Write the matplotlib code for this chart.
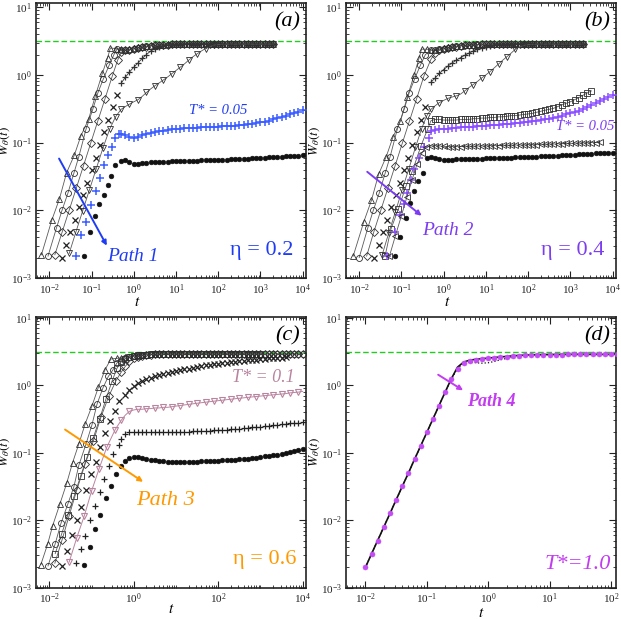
import matplotlib
matplotlib.use("Agg")
import matplotlib.pyplot as plt
from matplotlib.ticker import LogLocator, NullFormatter, LogFormatterSciNotation

plt.rcParams['font.family'] = ['Liberation Serif', 'DejaVu Serif']
plt.rcParams['mathtext.fontset'] = 'stix'

# common late-time grid (0.1 decade spacing)
t_late = [0.5, 0.63, 0.79, 1.0, 1.26, 1.58, 2.0, 2.51, 3.16, 3.98,
          5.01, 6.31, 7.94, 10.0, 12.6, 15.8, 20.0, 25.1, 31.6, 39.8,
          50.1, 63.1, 79.4, 100.0, 126.0, 158.0, 200.0, 251.0, 316.0, 398.0,
          501.0, 631.0, 794.0, 1000.0, 1260.0, 1580.0, 2000.0, 2510.0, 3160.0, 3980.0,
          5010.0, 6310.0, 7940.0, 10000.0]
w_sat = 3.14  # green dashed limit

# ---------------- panel (a), eta = 0.2 ----------------
ta1 = [0.0065, 0.0115, 0.0174, 0.0257, 0.039, 0.056, 0.085, 0.123, 0.18, 0.24, 0.28, 0.37]
wa1 = [0.0022, 0.0072, 0.0148, 0.036, 0.065, 0.126, 0.22, 0.49, 1.05, 1.8, 2.5, 2.45]
wa1_l = [2.4, 2.35, 2.4, 2.5, 2.55, 2.6, 2.65, 2.7, 2.75, 2.78, 2.8, 2.82, 2.84, 2.85, 2.85, 2.86, 2.85,
         2.87, 2.86, 2.85, 2.87, 2.86, 2.85, 2.86, 2.87, 2.85, 2.86, 2.85, 2.87, 2.86, 2.85, 2.86, 2.87,
         2.85, 2.86, 2.85, 2.86]
ta2 = [0.0093, 0.0148, 0.020, 0.0275, 0.038, 0.050, 0.074, 0.107, 0.141, 0.19, 0.26, 0.34, 0.40]
wa2 = [0.0021, 0.0055, 0.010, 0.0178, 0.035, 0.062, 0.158, 0.31, 0.54, 0.87, 1.38, 2.0, 2.4]
wa2_l = [2.35, 2.3, 2.35, 2.45, 2.5, 2.6, 2.65, 2.7, 2.72, 2.76, 2.8, 2.8, 2.83, 2.84, 2.85, 2.84, 2.86,
         2.85, 2.86, 2.84, 2.86, 2.85, 2.87, 2.85, 2.84, 2.86, 2.85, 2.86, 2.85, 2.84, 2.86, 2.85, 2.86,
         2.87, 2.85, 2.84, 2.85]
ta3 = [0.0135, 0.020, 0.0295, 0.0437, 0.0646, 0.0955, 0.141, 0.209, 0.309, 0.417]
wa3 = [0.0022, 0.0047, 0.010, 0.0214, 0.0457, 0.098, 0.209, 0.447, 0.955, 1.66]
wa3_l = [2.15, 2.3, 2.35, 2.4, 2.5, 2.55, 2.62, 2.68, 2.72, 2.76, 2.79, 2.81, 2.83, 2.84, 2.85, 2.86, 2.85,
         2.84, 2.86, 2.85, 2.86, 2.87, 2.85, 2.86, 2.85, 2.84, 2.86, 2.85, 2.86, 2.85, 2.86, 2.84, 2.85,
         2.86, 2.85, 2.86, 2.85]
ta4 = [0.02, 0.025, 0.0316, 0.0398, 0.050, 0.063, 0.079, 0.10, 0.126, 0.158, 0.20, 0.25, 0.316, 0.40]
wa4 = [0.002, 0.0031, 0.0047, 0.0072, 0.011, 0.0168, 0.0257, 0.039, 0.060, 0.092, 0.141, 0.216, 0.33, 0.51]
wa4_l = [0.75, 0.92, 1.1, 1.3, 1.5, 1.75, 2.0, 2.25, 2.45, 2.6, 2.7, 2.75, 2.8, 2.82, 2.84, 2.85, 2.84,
         2.86, 2.85, 2.86, 2.85, 2.84, 2.86, 2.85, 2.86, 2.85, 2.86, 2.84, 2.85, 2.86, 2.85, 2.86, 2.85,
         2.84, 2.86, 2.85, 2.86]
ta5 = [0.0295, 0.0427, 0.0617, 0.089, 0.129, 0.186, 0.269, 0.37]
wa5 = [0.0023, 0.0048, 0.0098, 0.020, 0.041, 0.083, 0.158, 0.24]
wa5_l = [0.31, 0.34, 0.37, 0.40, 0.43, 0.48, 0.55, 0.62, 0.69, 0.76, 0.84, 0.93, 1.04, 1.16, 1.3, 1.45,
         1.65, 1.85, 2.05, 2.25, 2.45, 2.62, 2.75, 2.8, 2.84, 2.85, 2.86, 2.85, 2.86, 2.85, 2.86, 2.85,
         2.84, 2.86, 2.85, 2.86, 2.85]
ta6 = [0.042, 0.056, 0.074, 0.098, 0.129, 0.162, 0.20, 0.25, 0.31, 0.36, 0.44]
wa6 = [0.0021, 0.0043, 0.0068, 0.012, 0.019, 0.030, 0.047, 0.066, 0.087, 0.118, 0.135]
wa6_l = [0.133, 0.128, 0.122, 0.118, 0.122, 0.128, 0.133, 0.138, 0.142, 0.146,
         0.150, 0.153, 0.156, 0.158, 0.160, 0.162, 0.164, 0.165, 0.166, 0.167,
         0.168, 0.169, 0.170, 0.172, 0.173, 0.174, 0.175, 0.177, 0.179, 0.182,
         0.185, 0.189, 0.193, 0.198, 0.204, 0.211, 0.22, 0.23, 0.24, 0.25,
         0.26, 0.27, 0.28, 0.30]
ta7 = [0.068, 0.093, 0.123, 0.151, 0.195, 0.24, 0.288, 0.363]
wa7 = [0.0021, 0.0047, 0.0083, 0.0123, 0.017, 0.024, 0.032, 0.046]
wa7_l = [0.054, 0.055, 0.051, 0.049, 0.049, 0.050, 0.050, 0.051, 0.051, 0.052,
         0.052, 0.052, 0.053, 0.053, 0.053, 0.054, 0.054, 0.054, 0.054, 0.055,
         0.055, 0.055, 0.055, 0.056, 0.056, 0.056, 0.057, 0.057, 0.057, 0.058,
         0.058, 0.059, 0.059, 0.060, 0.060, 0.061, 0.061, 0.062, 0.062, 0.063,
         0.063, 0.064, 0.064, 0.065]

# ---------------- panel (b), eta = 0.4 ----------------
tb1 = [0.0072, 0.0129, 0.0195, 0.0288, 0.0437, 0.063, 0.095, 0.138, 0.2, 0.26, 0.30, 0.40]
wb1 = [0.0021, 0.0068, 0.014, 0.034, 0.062, 0.12, 0.21, 0.47, 1.0, 1.75, 2.4, 2.4]
wb1_l = [2.35, 2.3, 2.4, 2.5, 2.55, 2.6, 2.65, 2.7, 2.74, 2.78, 2.8, 2.82, 2.84, 2.85, 2.86, 2.85, 2.87,
         2.86, 2.85, 2.86, 2.87, 2.85, 2.86, 2.85, 2.87, 2.86, 2.85, 2.86, 2.87, 2.85, 2.86, 2.85, 2.86,
         2.87, 2.85, 2.86, 2.85]
tb2 = [0.010, 0.016, 0.0216, 0.0297, 0.041, 0.054, 0.08, 0.116, 0.152, 0.205, 0.28, 0.37]
wb2 = [0.0020, 0.0055, 0.010, 0.0178, 0.035, 0.062, 0.158, 0.31, 0.54, 0.87, 1.38, 2.0]
wb2_l = [2.3, 2.35, 2.4, 2.45, 2.5, 2.58, 2.64, 2.7, 2.74, 2.77, 2.8, 2.82, 2.83, 2.85, 2.84, 2.86, 2.85,
         2.86, 2.84, 2.86, 2.85, 2.87, 2.85, 2.86, 2.84, 2.86, 2.85, 2.86, 2.85, 2.87, 2.85, 2.86, 2.84,
         2.86, 2.85, 2.86, 2.85]
tb3 = [0.015, 0.022, 0.0325, 0.048, 0.071, 0.105, 0.155, 0.23, 0.34]
wb3 = [0.0021, 0.0047, 0.010, 0.0214, 0.0457, 0.098, 0.209, 0.447, 0.955]
wb3_l = [1.7, 2.1, 2.3, 2.4, 2.48, 2.55, 2.62, 2.68, 2.72, 2.76, 2.79, 2.81, 2.83, 2.84, 2.85, 2.86, 2.85,
         2.84, 2.86, 2.85, 2.86, 2.87, 2.85, 2.86, 2.85, 2.84, 2.86, 2.85, 2.86, 2.85, 2.86, 2.84, 2.85,
         2.86, 2.85, 2.86, 2.85]
tb4 = [0.023, 0.029, 0.0363, 0.0457, 0.0575, 0.0724, 0.091, 0.115, 0.145, 0.182, 0.229, 0.288, 0.363]
wb4 = [0.002, 0.0031, 0.0047, 0.0072, 0.011, 0.0168, 0.0257, 0.039, 0.060, 0.092, 0.141, 0.216, 0.33]
wb4_l = [0.78, 0.9, 1.05, 1.2, 1.35, 1.5, 1.65, 1.8, 1.95, 2.1, 2.25, 2.38, 2.5, 2.6, 2.68, 2.74, 2.78,
         2.81, 2.83, 2.84, 2.85, 2.86, 2.85, 2.86, 2.84, 2.86, 2.85, 2.86, 2.85, 2.86, 2.84, 2.85, 2.86,
         2.85, 2.86, 2.85, 2.86]
tb5 = [0.035, 0.05, 0.072, 0.104, 0.15, 0.215, 0.30, 0.40]
wb5 = [0.0022, 0.0046, 0.0095, 0.02, 0.041, 0.085, 0.16, 0.25]
wb5_l = [0.31, 0.35, 0.39, 0.42, 0.45, 0.47, 0.49, 0.52, 0.58, 0.65, 0.72, 0.8, 0.9, 1.0, 1.12, 1.27,
         1.45, 1.65, 1.86, 2.1, 2.4, 2.6, 2.72, 2.8, 2.83, 2.85, 2.86, 2.85, 2.86, 2.85, 2.84, 2.86,
         2.85, 2.86, 2.85, 2.86, 2.85]
tb6 = [0.041, 0.056, 0.085, 0.129, 0.182, 0.29, 0.42]
wb6 = [0.0021, 0.0052, 0.0105, 0.023, 0.038, 0.089, 0.16]
wb6_l = [0.21, 0.22, 0.22, 0.215, 0.215, 0.215, 0.215, 0.22, 0.22, 0.22, 0.225, 0.225, 0.23, 0.23,
         0.235, 0.235, 0.24, 0.24, 0.245, 0.25, 0.25, 0.255, 0.26, 0.265, 0.27, 0.28, 0.29, 0.30, 0.31,
         0.32, 0.34, 0.36, 0.38, 0.40, 0.43, 0.46, 0.50, 0.54, 0.58]
tb7 = [0.046, 0.071, 0.091, 0.113, 0.135, 0.165, 0.20, 0.26, 0.35, 0.44]
wb7 = [0.0021, 0.0048, 0.0085, 0.0125, 0.018, 0.028, 0.041, 0.06, 0.085, 0.118]
wb7_l = [0.15, 0.155, 0.157, 0.16, 0.161, 0.163, 0.165, 0.167, 0.168, 0.17,
         0.172, 0.174, 0.176, 0.178, 0.18, 0.182, 0.184, 0.186, 0.188, 0.19,
         0.193, 0.196, 0.2, 0.203, 0.206, 0.21, 0.215, 0.22, 0.225, 0.23,
         0.24, 0.25, 0.26, 0.27, 0.28, 0.29, 0.31, 0.33, 0.355, 0.38,
         0.41, 0.44, 0.47, 0.51]
tb8 = [0.052, 0.072, 0.10, 0.135, 0.178, 0.234, 0.30, 0.38]
wb8 = [0.0021, 0.0042, 0.0083, 0.0158, 0.028, 0.048, 0.069, 0.085]
wb8_l = [0.089, 0.09, 0.089, 0.088, 0.087, 0.087, 0.087, 0.087, 0.088, 0.088,
         0.088, 0.089, 0.089, 0.089, 0.09, 0.09, 0.09, 0.091, 0.091, 0.091,
         0.092, 0.092, 0.092, 0.093, 0.093, 0.093, 0.094, 0.094, 0.095, 0.095,
         0.096, 0.096, 0.097, 0.097, 0.098, 0.098, 0.099, 0.099, 0.1, 0.1, 0.101]
tb9 = [0.07, 0.095, 0.126, 0.158, 0.2, 0.25, 0.316, 0.40]
wb9 = [0.0021, 0.004, 0.0076, 0.0126, 0.019, 0.027, 0.035, 0.06]
wb9_l = [0.062, 0.06, 0.057, 0.056, 0.056, 0.056, 0.057, 0.057, 0.057, 0.058,
         0.058, 0.058, 0.058, 0.059, 0.059, 0.059, 0.06, 0.06, 0.06, 0.06,
         0.061, 0.061, 0.061, 0.062, 0.062, 0.062, 0.063, 0.063, 0.063, 0.064,
         0.064, 0.065, 0.065, 0.066, 0.066, 0.067, 0.067, 0.068, 0.068, 0.069,
         0.069, 0.07, 0.07, 0.071]

# ---------------- panel (c), eta = 0.6 ----------------
tc1 = [0.0063, 0.0091, 0.012, 0.0178, 0.0257, 0.0355, 0.050, 0.071, 0.102, 0.145, 0.209, 0.288, 0.40]
wc1 = [0.0022, 0.0044, 0.0083, 0.0174, 0.035, 0.071, 0.135, 0.27, 0.49, 0.93, 1.7, 2.45, 2.5]
wc1_l = [2.55, 2.6, 2.65, 2.7, 2.75, 2.8, 2.83, 2.86, 2.88, 2.9, 2.9, 2.91, 2.9, 2.92, 2.91, 2.9, 2.92,
         2.91, 2.9, 2.91, 2.92, 2.9, 2.91, 2.9, 2.92, 2.91, 2.9, 2.91, 2.92, 2.9, 2.91, 2.9, 2.92, 2.91]
tc2 = [0.0093, 0.0138, 0.019, 0.0275, 0.038, 0.050, 0.074, 0.102, 0.135, 0.186, 0.25, 0.316, 0.40]
wc2 = [0.0021, 0.0045, 0.0091, 0.0174, 0.031, 0.065, 0.135, 0.257, 0.525, 0.91, 1.35, 1.66, 2.14]
wc2_l = [2.3, 2.5, 2.62, 2.7, 2.76, 2.8, 2.84, 2.87, 2.89, 2.9, 2.91, 2.9, 2.92, 2.91, 2.9, 2.91, 2.92,
         2.9, 2.91, 2.9, 2.92, 2.91, 2.9, 2.91, 2.92, 2.9, 2.91, 2.9, 2.92, 2.91, 2.9, 2.91, 2.92, 2.9,
         2.91, 2.9, 2.92, 2.91, 2.9, 2.91, 2.92, 2.9, 2.91, 2.9]
tc3 = [0.0138, 0.0195, 0.0275, 0.039, 0.055, 0.078, 0.11, 0.155, 0.219, 0.309, 0.40]
wc3 = [0.0032, 0.0062, 0.012, 0.023, 0.045, 0.085, 0.166, 0.316, 0.62, 1.17, 1.78]
wc3_l = [2.2, 2.45, 2.6, 2.7, 2.76, 2.8, 2.84, 2.87, 2.89, 2.9, 2.91, 2.9, 2.92, 2.91, 2.9, 2.91, 2.92,
         2.9, 2.91, 2.9, 2.92, 2.91, 2.9, 2.91, 2.92, 2.9, 2.91, 2.9, 2.92, 2.91, 2.9, 2.91, 2.92, 2.9]
tc4 = [0.0135, 0.020, 0.0295, 0.0447, 0.071, 0.11, 0.168, 0.257, 0.38]
wc4 = [0.0023, 0.0051, 0.0117, 0.028, 0.069, 0.148, 0.34, 0.69, 1.17]
wc4_l = [1.55, 1.9, 2.25, 2.5, 2.65, 2.75, 2.8, 2.84, 2.87, 2.89, 2.9, 2.91, 2.9, 2.92, 2.91, 2.9, 2.91,
         2.92, 2.9, 2.91, 2.9, 2.92, 2.91, 2.9, 2.91, 2.92, 2.9, 2.91, 2.9, 2.92, 2.91, 2.9, 2.91, 2.92,
         2.9, 2.91, 2.9, 2.92, 2.91, 2.9, 2.91, 2.92, 2.9, 2.91]
tc5 = [0.020, 0.0263, 0.0347, 0.0447, 0.0575, 0.0759, 0.0977, 0.126, 0.162, 0.214, 0.275, 0.355, 0.457]
wc5 = [0.0021, 0.0035, 0.006, 0.010, 0.0158, 0.028, 0.048, 0.074, 0.12, 0.195, 0.295, 0.417, 0.575]
wc5_l = [0.72, 0.86, 0.97, 1.07, 1.15, 1.22, 1.29, 1.35, 1.41, 1.46, 1.51, 1.56, 1.61, 1.66, 1.71,
         1.76, 1.81, 1.86, 1.91, 1.96, 2.0, 2.04, 2.08, 2.12, 2.16, 2.2, 2.23, 2.27, 2.3, 2.34, 2.37,
         2.4, 2.43, 2.46, 2.49, 2.52, 2.54, 2.57, 2.6]
tc6 = [0.0295, 0.0447, 0.0676, 0.10, 0.151, 0.229, 0.363]
wc6 = [0.0024, 0.0055, 0.0117, 0.027, 0.058, 0.12, 0.22]
wc6_l = [0.30, 0.36, 0.41, 0.43, 0.44, 0.44, 0.45, 0.45, 0.46, 0.46, 0.47, 0.47, 0.48, 0.49, 0.50,
         0.51, 0.52, 0.53, 0.54, 0.55, 0.56, 0.57, 0.58, 0.59, 0.60, 0.61, 0.62, 0.63, 0.64, 0.65,
         0.66, 0.67, 0.68, 0.69, 0.70, 0.71, 0.72, 0.73, 0.74, 0.75, 0.77, 0.78, 0.79, 0.81]
tc7 = [0.043, 0.056, 0.071, 0.093, 0.12, 0.155, 0.20, 0.257, 0.331, 0.437]
wc7 = [0.0023, 0.0038, 0.0059, 0.010, 0.016, 0.026, 0.041, 0.063, 0.096, 0.13]
wc7_l = [0.16, 0.19, 0.2, 0.2, 0.2, 0.2, 0.2, 0.2, 0.2, 0.2, 0.2, 0.201, 0.202, 0.203, 0.204, 0.205,
         0.206, 0.207, 0.208, 0.21, 0.211, 0.212, 0.214, 0.216, 0.218, 0.22, 0.222, 0.225, 0.228,
         0.231, 0.234, 0.237, 0.24, 0.244, 0.248, 0.252, 0.256, 0.26, 0.264, 0.268, 0.272, 0.276,
         0.28, 0.285]
tc8 = [0.068, 0.091, 0.123, 0.162, 0.219, 0.288, 0.38]
wc8 = [0.0022, 0.004, 0.0074, 0.012, 0.021, 0.032, 0.048]
wc8_l = [0.063, 0.075, 0.084, 0.086, 0.085, 0.083, 0.081, 0.079, 0.077, 0.076, 0.075, 0.074, 0.074,
         0.074, 0.074, 0.074, 0.074, 0.074, 0.074, 0.075, 0.075, 0.075, 0.076, 0.076, 0.077, 0.078,
         0.079, 0.079, 0.08, 0.081, 0.082, 0.083, 0.084, 0.086, 0.088, 0.09, 0.092, 0.094, 0.097,
         0.1, 0.103, 0.106, 0.109, 0.112]

# ---------------- panel (d), T* = 1.0 ----------------
td = [0.01, 0.0126, 0.0158, 0.02, 0.0251, 0.0316, 0.0398, 0.0501, 0.0631, 0.0794,
      0.1, 0.126, 0.158, 0.2, 0.251, 0.316, 0.398, 0.501, 0.631, 0.794,
      1.0, 1.26, 1.58, 2.0, 2.51, 3.16, 3.98, 5.01, 6.31, 7.94,
      10.0, 12.6, 15.8, 20.0, 25.1, 31.6, 39.8, 50.1, 63.1, 79.4, 100.0, 126.0]
wd_dots = [0.002, 0.0032, 0.005, 0.008, 0.0126, 0.02, 0.0317, 0.05, 0.08, 0.126,
           0.2, 0.317, 0.5, 0.8, 1.22, 1.75, 2.1, 2.3, 2.4, 2.45,
           2.5, 2.55, 2.6, 2.65, 2.7, 2.74, 2.77, 2.8, 2.82, 2.83,
           2.84, 2.85, 2.85, 2.86, 2.86, 2.86, 2.86, 2.86, 2.86, 2.86, 2.86, 2.86]
wd_solid = [0.002, 0.0032, 0.005, 0.008, 0.0126, 0.02, 0.0317, 0.05, 0.08, 0.126,
            0.2, 0.317, 0.5, 0.8, 1.25, 1.85, 2.2, 2.35, 2.42, 2.47,
            2.52, 2.57, 2.62, 2.67, 2.72, 2.76, 2.79, 2.81, 2.83, 2.84,
            2.85, 2.85, 2.86, 2.86, 2.86, 2.86, 2.86, 2.86, 2.86, 2.86, 2.86, 2.86]
wd_dotted = [0.002, 0.0032, 0.005, 0.008, 0.0126, 0.02, 0.0317, 0.05, 0.08, 0.126,
             0.2, 0.317, 0.5, 0.8, 1.22, 1.78, 2.12, 2.2, 2.15, 2.12,
             2.15, 2.25, 2.38, 2.5, 2.6, 2.68, 2.74, 2.78, 2.81, 2.83,
             2.84, 2.85, 2.85, 2.86, 2.86, 2.86, 2.86, 2.86, 2.86, 2.86, 2.86, 2.86]

GREY_L, GREY_M = '#5a5a5a', '#2e2e2e'
BLUE, BLUE_M = '#1f3cf5', '#3a5dff'
PURPLE, PURPLE_M = '#7b3cf2', '#8a4dff'
ORANGE = '#ff9900'
MAUVE = '#b9849f'
MAGENTA, MAGENTA_M = '#c23cf0', '#c44cf5'


def cat(tr, wr, wl, i0=0):
    return tr + t_late[i0:i0 + len(wl)], wr + wl


def sparse(n_rise, n_late):
    # every rising point, every other late point
    return list(range(n_rise)) + list(range(n_rise, n_rise + n_late, 2))


def grey(ax, t, w, m, ms=4.3, every=None):
    ax.plot(t, w, color=GREY_L, lw=0.6, marker=m, ms=ms, mfc='none', mec=GREY_M, mew=0.6,
            markevery=every, zorder=3)


def pts(ax, t, w, m, c, ms=4.5, mew=0.9, ls='none', lw=0.6):
    ax.plot(t, w, ls=ls, lw=lw, marker=m, ms=ms, color=c, mec=c, mew=mew, zorder=3)


def dots(ax, t, w, c='#111111', ms=3.4):
    ax.plot(t, w, ls='none', marker='o', ms=ms, color=c, mec=c, mew=0.4, zorder=3)


def style(ax, xlim, ylim, xbase=10, tx=0.5, ty=-0.065):
    ax.set_xscale('log')
    ax.set_yscale('log')
    ax.set_xlim(*xlim)
    ax.set_ylim(*ylim)
    ax.xaxis.set_major_locator(LogLocator(base=xbase, numticks=20))
    ax.xaxis.set_minor_locator(LogLocator(base=10, subs=[1, 2, 3, 4, 5, 6, 7, 8, 9], numticks=40))
    ax.xaxis.set_major_formatter(LogFormatterSciNotation(base=10))
    ax.xaxis.set_minor_formatter(NullFormatter())
    ax.yaxis.set_major_locator(LogLocator(base=10, numticks=20))
    ax.yaxis.set_minor_locator(LogLocator(base=10, subs=[2, 3, 4, 5, 6, 7, 8, 9], numticks=40))
    ax.yaxis.set_minor_formatter(NullFormatter())
    ax.tick_params(which='both', direction='in', top=True, right=True, labelsize=8, pad=3,
                   colors='#222222')
    ax.tick_params(which='major', length=5, width=0.8)
    ax.tick_params(which='minor', length=2.5, width=0.6)
    for s in ax.spines.values():
        s.set_linewidth(1.2)
        s.set_color('#222222')
    ax.axhline(w_sat, color='#22cc22', ls=(0, (4, 2)), lw=1.0, zorder=1)
    ax.set_xlabel('$t$', fontsize=11)
    ax.set_ylabel(r'$W_{\theta}(t)$', fontsize=9.5)
    ax.xaxis.set_label_coords(tx, ty)
    ax.yaxis.set_label_coords(-0.088, 0.5)


def arrow(ax, p0, p1, c):
    ax.annotate('', xy=p1, xytext=p0,
                arrowprops=dict(arrowstyle='-|>', color=c, lw=1.4, mutation_scale=7,
                                shrinkA=0, shrinkB=0), zorder=5)


fig = plt.figure(figsize=(6.21, 6.19), dpi=100)
axa = fig.add_axes([0.058, 0.551, 0.435, 0.444])
axb = fig.add_axes([0.557, 0.551, 0.435, 0.444])
axc = fig.add_axes([0.058, 0.0506, 0.435, 0.438])
axd = fig.add_axes([0.557, 0.0506, 0.435, 0.438])

xl = (0.00484, 12100)

# (a)
ax = axa
style(ax, xl, (1e-3, 11.5), tx=0.374)
grey(ax, *cat(ta1, wa1, wa1_l), '^')
grey(ax, *cat(ta2, wa2, wa2_l), 'o')
grey(ax, *cat(ta3, wa3, wa3_l), 'D', ms=3.8)
pts(ax, ta4, wa4, 'x', '#222222', ms=4)
pts(ax, t_late[:len(wa4_l)], wa4_l, '+', '#333333', ms=4.5, ls='-', lw=0.6)
grey(ax, *cat(ta5, wa5, wa5_l), 'v', every=sparse(len(ta5), len(wa5_l)))
pts(ax, *cat(ta6, wa6, wa6_l), '+', BLUE_M, ms=5.5, mew=1.1)
dots(ax, *cat(ta7, wa7, wa7_l))
arrow(ax, (0.017, 0.058), (0.23, 0.003), BLUE)
ax.text(0.23, 0.0021, 'Path 1', color=BLUE, fontsize=14, style='italic', ha='left', va='center')
ax.text(100, 0.30, 'T* = 0.05', color=BLUE, fontsize=10.5, style='italic', ha='center', va='center')
ax.text(1100, 0.0025, 'η = 0.2', color=BLUE, fontsize=16, ha='center', va='center')
ax.text(0.93, 0.93, '(a)', transform=ax.transAxes, fontsize=16, style='italic', ha='center', va='center')

# (b)
ax = axb
style(ax, xl, (1e-3, 11.5), tx=0.374)
grey(ax, *cat(tb1, wb1, wb1_l), '^')
grey(ax, *cat(tb2, wb2, wb2_l), 'o')
grey(ax, *cat(tb3, wb3, wb3_l), 'D', ms=3.8)
pts(ax, tb4, wb4, 'x', '#222222', ms=4)
pts(ax, t_late[:len(wb4_l)], wb4_l, '+', '#333333', ms=4.5, ls='-', lw=0.6)
grey(ax, *cat(tb5, wb5, wb5_l), 'v', every=sparse(len(tb5), len(wb5_l)))
grey(ax, *cat(tb6, wb6, wb6_l), 's', ms=3.8)
pts(ax, *cat(tb7, wb7, wb7_l), '+', PURPLE_M, ms=5.5, mew=1.1)
grey(ax, *cat(tb8, wb8, wb8_l), '<', ms=4.0)
dots(ax, *cat(tb9, wb9, wb9_l))
arrow(ax, (0.0155, 0.037), (0.30, 0.0083), PURPLE)
ax.text(0.31, 0.0051, 'Path 2', color=PURPLE, fontsize=14, style='italic', ha='left', va='center')
ax.text(2240, 0.17, 'T* = 0.05', color=PURPLE, fontsize=10.5, style='italic', ha='center', va='center')
ax.text(1150, 0.0025, 'η = 0.4', color=PURPLE, fontsize=16, ha='center', va='center')
ax.text(0.93, 0.93, '(b)', transform=ax.transAxes, fontsize=16, style='italic', ha='center', va='center')

# (c)
ax = axc
style(ax, xl, (1e-3, 10.4), xbase=100, ty=-0.055)
grey(ax, *cat(tc1, wc1, wc1_l), '^')
grey(ax, *cat(tc2, wc2, wc2_l), 'o')
grey(ax, *cat(tc3, wc3, wc3_l), 's', ms=3.8)
grey(ax, *cat(tc4, wc4, wc4_l), 'D', ms=3.8)
pts(ax, *cat(tc5, wc5, wc5_l, i0=1), 'x', '#222222', ms=4)
ax.plot(*cat(tc6, wc6, wc6_l), color=MAUVE, lw=0.7, marker='v', ms=4.5, mfc='none', mec=MAUVE,
        mew=0.8, markevery=sparse(len(tc6), len(wc6_l)), zorder=3)
pts(ax, *cat(tc7, wc7, wc7_l), '+', '#222222', ms=5)
dots(ax, *cat(tc8, wc8, wc8_l))
arrow(ax, (0.0236, 0.22), (1.66, 0.037), ORANGE)
ax.text(5.5, 0.0195, 'Path 3', color=ORANGE, fontsize=16, style='italic', ha='center', va='center')
ax.text(1150, 1.28, 'T* = 0.1', color=MAUVE, fontsize=13, style='italic', ha='center', va='center')
ax.text(1230, 0.0026, 'η = 0.6', color=ORANGE, fontsize=16, ha='center', va='center')
ax.text(0.93, 0.93, '(c)', transform=ax.transAxes, fontsize=16, style='italic', ha='center', va='center')

# (d)
ax = axd
style(ax, (0.0048, 121), (1e-3, 10.4), ty=-0.072)
ax.plot(td, wd_dotted, color='#111111', lw=0.9, ls=':', zorder=2)
ax.plot(td, wd_solid, color='#111111', lw=1.2, zorder=2)
dots(ax, td, wd_dots, c=MAGENTA_M, ms=3.6)
arrow(ax, (0.153, 1.43), (0.39, 0.84), MAGENTA)
ax.text(0.45, 0.57, 'Path 4', color=MAGENTA, fontsize=13, style='italic', weight='bold',
        ha='left', va='center')
ax.text(28.5, 0.0022, 'T*=1.0', color=MAGENTA, fontsize=16, style='italic', ha='center', va='center')
ax.text(0.93, 0.93, '(d)', transform=ax.transAxes, fontsize=16, style='italic', ha='center', va='center')

fig.savefig('out.png', dpi=100)
